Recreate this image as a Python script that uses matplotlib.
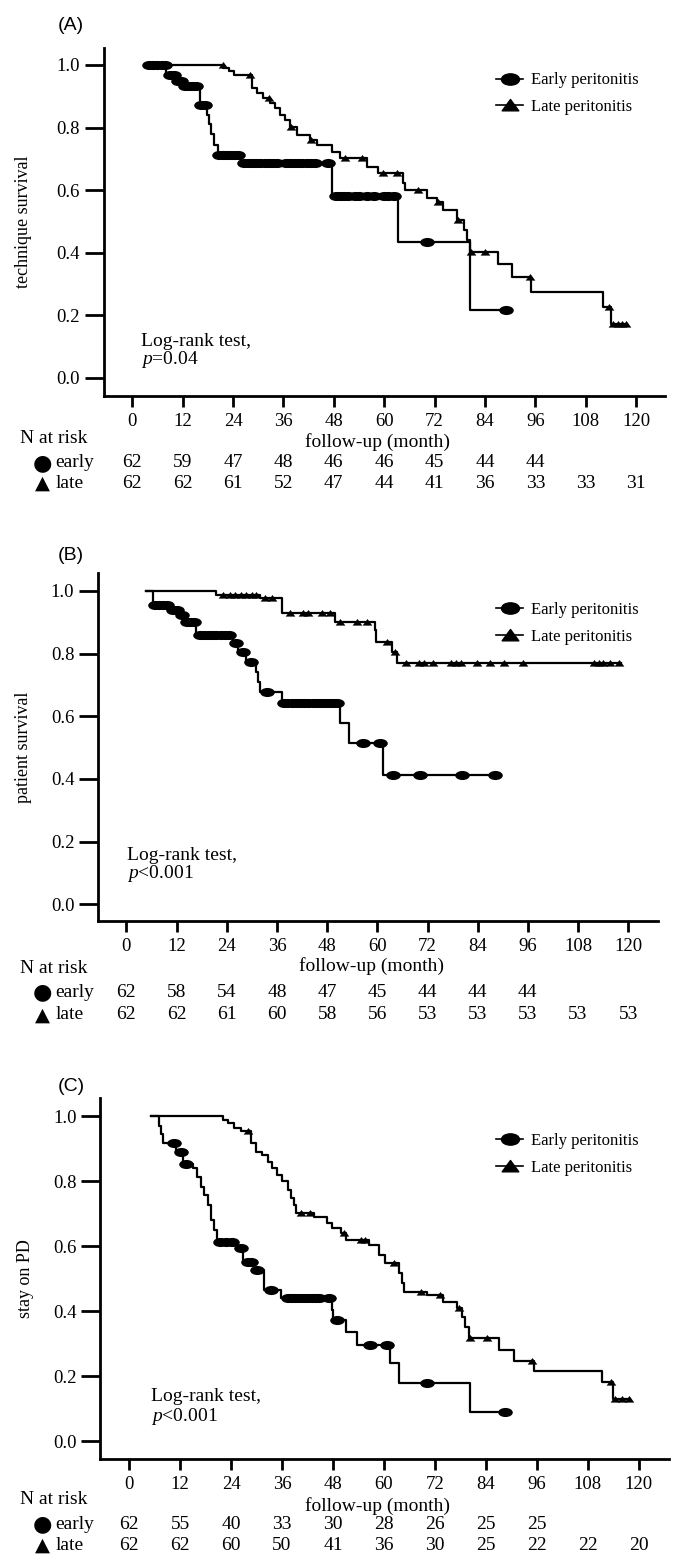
import numpy as np
import matplotlib
matplotlib.use('Agg')
import matplotlib.pyplot as plt
from matplotlib.lines import Line2D
from matplotlib.path import Path
from matplotlib.transforms import Affine2D, blended_transform_factory

plt.rcParams['font.family'] = ['Liberation Serif', 'DejaVu Serif']
plt.rcParams['mathtext.fontset'] = 'custom'
plt.rcParams['mathtext.it'] = 'Liberation Serif:italic'
plt.rcParams['mathtext.rm'] = 'Liberation Serif'

# ---- data (months, survival) ----
# (A) technique survival
a_start = 3.8
a_early_t = [8.0, 10.5, 12.0, 16.1, 17.7, 18.3, 18.8, 19.4, 20.4, 25.8, 47.5, 63.4, 80.4]
a_early_s = [0.968, 0.95, 0.932, 0.872, 0.84, 0.81, 0.78, 0.745, 0.712, 0.686, 0.58, 0.435, 0.217]
a_early_cens = [4.0, 5.0, 6.0, 7.0, 7.8, 9.0, 10.0, 11.0, 11.5, 12.5, 13.5, 14.5, 15.3,
                16.3, 17.3, 20.6, 21.5, 22.5, 23.5, 24.5, 25.3, 26.5, 27.5, 28.5, 29.5,
                30.5, 31.5, 32.5, 33.5, 34.5, 36.5, 37.5, 38.5, 39.5, 40.5, 41.5, 42.5,
                43.5, 46.7, 48.5, 49.5, 50.5, 51.5, 53, 54, 56, 57.5, 60, 61, 62.3,
                70.1, 88.9]
a_early_end = 88.9
a_late_t = [21.7, 23.0, 24.2, 28.6, 29.6, 31.2, 32.8, 34.0, 35.2, 36.4, 37.6, 39.2, 42.3,
            43.9, 47.5, 49.5, 55.8, 58.6, 64.6, 65.0, 70.1, 72.5, 74.1, 77.3, 78.9, 79.7,
            80.4, 87.2, 90.4, 94.9, 112.0, 114.1]
a_late_s = [0.99, 0.98, 0.968, 0.926, 0.91, 0.894, 0.878, 0.862, 0.84, 0.824, 0.803, 0.776,
            0.76, 0.744, 0.723, 0.702, 0.675, 0.654, 0.622, 0.601, 0.574, 0.563, 0.537,
            0.505, 0.473, 0.441, 0.404, 0.365, 0.322, 0.276, 0.228, 0.173]
a_late_cens = [21.5, 28.0, 32.6, 37.8, 42.6, 50.7, 54.6, 59.8, 63.0, 68.1, 72.9, 77.5,
               80.7, 84.0, 94.7, 113.6, 114.6, 115.6, 116.6, 117.6]
a_late_end = 117.8

# (B) patient survival
b_start = 4.7
b_early_t = [6.3, 10.7, 12.7, 13.9, 16.7, 25.5, 26.7, 28.7, 31.1, 31.5, 31.9, 37.1, 51.1,
             53.3, 61.4]
b_early_s = [0.955, 0.939, 0.923, 0.902, 0.86, 0.833, 0.806, 0.774, 0.74, 0.71, 0.679,
             0.642, 0.578, 0.514, 0.413]
b_early_cens = [6.8, 7.8, 8.8, 9.8, 11.2, 12.2, 13.2, 14.4, 15.3, 16.2, 17.5, 18.5, 19.5,
                20.5, 21.5, 22.5, 23.5, 24.5, 26.2, 27.9, 29.9, 33.5, 37.6, 38.5, 39.5,
                40.5, 41.5, 42.5, 43.5, 44.5, 45.5, 46.5, 47.5, 48.5, 49.5, 50.3, 56.6,
                60.6, 63.8, 70.2, 80.2, 88.2]
b_early_end = 88.5
b_late_t = [21.5, 31.9, 37.1, 49.9, 59.4, 59.8, 63.5, 64.7]
b_late_s = [0.987, 0.977, 0.929, 0.902, 0.876, 0.838, 0.806, 0.771]
b_late_cens = [23.1, 24.7, 26.0, 27.5, 28.7, 30.0, 31.1, 33.1, 34.7, 39.1, 42.3, 43.5,
               46.7, 48.7, 51.1, 55.1, 57.5, 62.3, 64.2, 66.9, 70.0, 71.2, 73.2, 77.5,
               78.7, 80.1, 83.8, 87.0, 90.2, 94.9, 111.9, 113.0, 114.0, 115.6, 117.7]
b_late_end = 118.2

# (C) stay on PD
c_start = 5.2
c_early_t = [7.1, 7.5, 7.9, 11.0, 12.6, 15.0, 16.1, 16.9, 17.7, 18.5, 19.3, 20.0, 20.8,
             25.5, 26.7, 29.4, 31.8, 35.7, 47.8, 48.0, 51.0, 53.7, 61.5, 63.5, 80.3]
c_early_s = [0.97, 0.945, 0.917, 0.891, 0.852, 0.84, 0.814, 0.783, 0.758, 0.727, 0.681,
             0.65, 0.614, 0.593, 0.552, 0.527, 0.465, 0.441, 0.403, 0.373, 0.337, 0.296,
             0.239, 0.18, 0.09]
c_early_cens = [10.6, 12.2, 13.4, 21.5, 22.8, 24.2, 26.3, 27.9, 28.7, 30.2, 33.3, 37.3,
                38.2, 39.0, 39.8, 40.6, 41.4, 42.2, 43.0, 43.8, 44.6, 47.0, 49.0, 56.8,
                60.7, 70.1, 88.6]
c_early_end = 88.8
c_late_t = [22.0, 23.2, 24.7, 26.3, 28.6, 29.8, 31.4, 32.6, 33.7, 34.9, 36.1, 37.3, 38.0,
            38.8, 39.2, 43.5, 46.7, 47.8, 49.8, 51.0, 56.4, 58.8, 60.3, 63.5, 64.3, 64.6,
            70.1, 74.0, 77.2, 78.4, 79.1, 79.9, 87.0, 90.7, 95.3, 111.4, 114.0]
c_late_s = [0.989, 0.978, 0.963, 0.953, 0.917, 0.891, 0.881, 0.86, 0.84, 0.819, 0.799,
            0.773, 0.747, 0.727, 0.701, 0.691, 0.67, 0.655, 0.64, 0.619, 0.604, 0.573,
            0.547, 0.516, 0.486, 0.46, 0.45, 0.429, 0.409, 0.383, 0.352, 0.316, 0.28,
            0.246, 0.216, 0.183, 0.131]
c_late_cens = [27.9, 40.4, 42.7, 50.6, 54.5, 55.6, 62.3, 68.6, 73.3, 77.6, 80.3, 84.2,
               94.8, 113.5, 114.5, 116.0, 117.6]
c_late_end = 117.8

# numbers at risk
risk_months = [0, 12, 24, 36, 48, 60, 72, 84, 96, 108, 120]
a_risk_early = [62, 59, 47, 48, 46, 46, 45, 44, 44]
a_risk_late = [62, 62, 61, 52, 47, 44, 41, 36, 33, 33, 31]
b_risk_early = [62, 58, 54, 48, 47, 45, 44, 44, 44]
b_risk_late = [62, 62, 61, 60, 58, 56, 53, 53, 53, 53, 53]
c_risk_early = [62, 55, 40, 33, 30, 28, 26, 25, 25]
c_risk_late = [62, 62, 60, 50, 41, 36, 30, 25, 22, 22, 20]

panel_tags = ['(A)', '(B)', '(C)']
y_labels = ['technique survival', 'patient survival', 'stay on PD']
p_texts = ['$p$=0.04', '$p$<0.001', '$p$<0.001']

# the original figure is slightly stretched sideways: flat ellipses / wide triangles
ELLIPSE = Path.unit_circle().transformed(Affine2D().scale(1.6, 1.0))
WIDE_TRI = Path([(-1.25, -0.8), (1.25, -0.8), (0, 0.9), (-1.25, -0.8)],
                [Path.MOVETO, Path.LINETO, Path.LINETO, Path.CLOSEPOLY])


def surv_at(times, surv, c):
    idx = np.searchsorted(times, c, side='right')
    return np.r_[1.0, surv][idx]


def km(ax, start, times, surv, end, cens, marker, ms):
    t = np.r_[start, times, end]
    s = np.r_[1.0, surv, surv[-1]]
    ax.step(t, s, where='post', color='k', lw=1.6)
    ax.plot(cens, surv_at(times, surv, np.array(cens)), linestyle='none',
            marker=marker, color='k', ms=ms, mew=0)


fig = plt.figure(figsize=(6.92, 15.66), dpi=100)

# per-panel layout (pixels of the 692x1566 canvas)
layout = [
    dict(box=(103.7, 48, 665.5, 396), ylim=(-0.0575, 1.054), tag_y=25,
         leg=(0.699, 0.93), logrank=(2.1, 0.118), nrisk=(-0.121, -0.1925, -0.25),
         xl=-0.106, yl=-0.128),
    dict(box=(98, 572.7, 657.5, 921), ylim=(-0.053, 1.058), tag_y=556,
         leg=(0.712, 0.915), logrank=(0.2, 0.157), nrisk=(-0.135, -0.205, -0.269),
         xl=-0.103, yl=-0.118),
    dict(box=(100.2, 1098.3, 668.6, 1459.3), ylim=(-0.056, 1.055), tag_y=1086.7,
         leg=(0.697, 0.903), logrank=(5.2, 0.136), nrisk=(-0.111, -0.18, -0.238),
         xl=-0.104, yl=-0.116),
]

curves = [
    (a_start, a_early_t, a_early_s, a_early_end, a_early_cens,
     a_late_t, a_late_s, a_late_end, a_late_cens, a_risk_early, a_risk_late),
    (b_start, b_early_t, b_early_s, b_early_end, b_early_cens,
     b_late_t, b_late_s, b_late_end, b_late_cens, b_risk_early, b_risk_late),
    (c_start, c_early_t, c_early_s, c_early_end, c_early_cens,
     c_late_t, c_late_s, c_late_end, c_late_cens, c_risk_early, c_risk_late),
]

W, H = 692.0, 1566.0
for i, (lay, cv) in enumerate(zip(layout, curves)):
    x0, y0, x1, y1 = lay['box']
    ax = fig.add_axes([x0 / W, 1 - y1 / H, (x1 - x0) / W, (y1 - y0) / H])
    (st, et, es, eend, ec, lt, ls, lend, lc, r_early, r_late) = cv

    km(ax, st, et, es, eend, ec, ELLIPSE, 10.5)
    km(ax, st, lt, ls, lend, lc, WIDE_TRI, 7)

    ax.set_xlim(-6.8, 127)
    ax.set_ylim(*lay['ylim'])
    for side in ['top', 'right']:
        ax.spines[side].set_visible(False)
    for side in ['left', 'bottom']:
        ax.spines[side].set_linewidth(2.0)
    ax.set_xticks(risk_months)
    ax.set_xticklabels([str(m) for m in risk_months])
    ax.set_yticks([0.0, 0.2, 0.4, 0.6, 0.8, 1.0])
    ax.set_yticklabels(['%.1f' % v for v in [0.0, 0.2, 0.4, 0.6, 0.8, 1.0]])
    ax.tick_params(axis='y', length=14, width=2, pad=3, labelsize=13.5)
    ax.tick_params(axis='x', length=8, width=2, pad=4, labelsize=13.5)

    ax.set_ylabel(y_labels[i], fontsize=13)
    ax.yaxis.set_label_coords(lay['yl'], 0.5)
    ax.set_xlabel('follow-up (month)', fontsize=14)
    ax.xaxis.set_label_coords(0.488, lay['xl'])

    handles = [Line2D([], [], color='k', lw=1.2, marker=ELLIPSE, ms=13),
               Line2D([], [], color='k', lw=1.2, marker=WIDE_TRI, ms=12)]
    ax.legend(handles, ['Early peritonitis', 'Late peritonitis'], loc='upper left',
              bbox_to_anchor=lay['leg'], frameon=False, fontsize=12,
              handlelength=1.6, handletextpad=0.45, labelspacing=0.65,
              borderpad=0, borderaxespad=0)

    lx, ly = lay['logrank']
    ax.text(lx, ly, 'Log-rank test,', fontsize=14, va='center', ha='left')
    ax.text(lx, ly - 0.06, p_texts[i], fontsize=14, va='center', ha='left')

    fig.text(57.4 / W, 1 - lay['tag_y'] / H, panel_tags[i], fontsize=14,
             family='Liberation Sans', va='center', ha='left')

    # number-at-risk table
    bt = blended_transform_factory(ax.transData, ax.transAxes)
    ny, ey, ly2 = lay['nrisk']
    px = lambda p: (p - x0) / (x1 - x0)
    ax.text(px(19.9), ny, 'N at risk', transform=ax.transAxes, fontsize=14,
            va='center', ha='left')
    ax.text(px(42), ey, '\u25cf', transform=ax.transAxes, fontsize=16,
            family='DejaVu Sans', va='center', ha='center')
    ax.text(px(55.2), ey, 'early', transform=ax.transAxes, fontsize=14,
            va='center', ha='left')
    ax.text(px(42), ly2, '\u25b2', transform=ax.transAxes, fontsize=14,
            family='DejaVu Sans', va='center', ha='center')
    ax.text(px(55.2), ly2, 'late', transform=ax.transAxes, fontsize=14,
            va='center', ha='left')
    for m, n in zip(risk_months, r_early):
        ax.text(m, ey, str(n), transform=bt, fontsize=14, va='center', ha='center')
    for m, n in zip(risk_months, r_late):
        ax.text(m, ly2, str(n), transform=bt, fontsize=14, va='center', ha='center')

fig.savefig('out.png', dpi=100, facecolor='white')
